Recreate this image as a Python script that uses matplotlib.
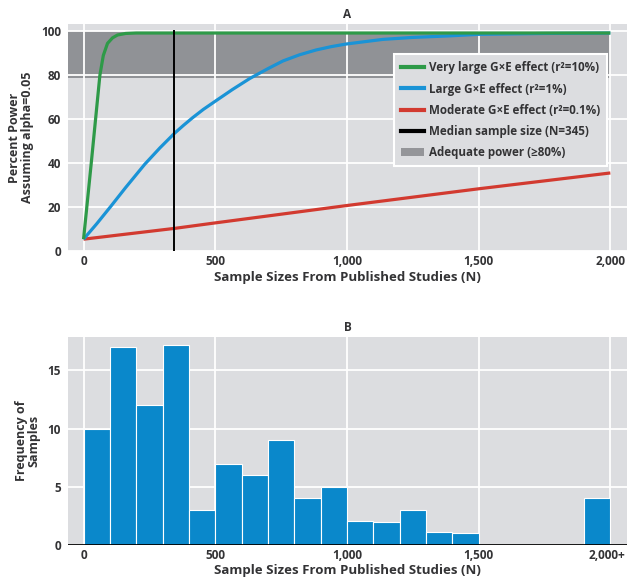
import matplotlib
matplotlib.use("Agg")
import matplotlib.pyplot as plt
import matplotlib.transforms as mtransforms
from matplotlib.patches import Patch
from matplotlib.lines import Line2D

# ---- Panel A data ----
n_verylarge = [0, 30, 62, 75, 91, 110, 129, 160, 200, 500, 1000, 1500, 2000]
p_verylarge = [5.5, 41, 80, 89, 94.5, 97, 98.3, 99, 99.2, 99.2, 99.2, 99.2, 99.2]

n_large = [0, 50, 104, 160, 232, 290, 345, 380, 414, 455, 500, 565, 632, 700, 757, 820, 883,
           940, 997, 1136, 1250, 1389, 1500, 1750, 2000]
p_large = [5.5, 12.5, 20.5, 29, 39.5, 47, 53.6, 57.3, 60.7, 64.5, 68.2, 73.5, 78.6, 83, 86.5,
           89.3, 91.5, 93, 94.2, 96.3, 97.2, 97.9, 98.6, 99.0, 99.2]

n_moderate = [0, 345, 500, 1000, 1500, 2000]
p_moderate = [5.5, 10.4, 12.9, 20.8, 28.4, 35.6]

median_n = 345
adequate_low, adequate_high = 78.8, 100

legend_labels = [
    "Very large G\u00d7E effect (r\u00b2=10%)",
    "Large G\u00d7E effect (r\u00b2=1%)",
    "Moderate G\u00d7E effect (r\u00b2=0.1%)",
    "Median sample size (N=345)",
    "Adequate power (\u226580%)",
]

# ---- Panel B data ----
bin_left = [0, 100, 200, 300, 400, 500, 600, 700, 800, 900, 1000, 1100, 1200, 1300, 1400, 1900]
freq = [10, 17, 12, 17.2, 3, 7, 6, 9, 4, 5, 2.1, 2, 3, 1.1, 1, 4]

x_ticks = [0, 500, 1000, 1500, 2000]
x_ticklabels_a = ["0", "500", "1,000", "1,500", "2,000"]
x_ticklabels_b = ["0", "500", "1,000", "1,500", "2,000+"]

GREEN = "#2e9a48"
BLUE = "#1a93d6"
RED = "#d23a30"
BARBLUE = "#0a88cb"
BG = "#dcdde0"
BAND = "#909296"
TXT = "#333335"

plt.rcParams["font.family"] = ["Open Sans", "DejaVu Sans"]
plt.rcParams["font.weight"] = "bold"

fig = plt.figure(figsize=(6.28, 5.81), dpi=100)
axA = fig.add_axes([0.1083, 0.5675, 0.8900, 0.3912])
axB = fig.add_axes([0.1083, 0.0620, 0.8900, 0.3585])

XLIM = (-59, 2063)

for ax in (axA, axB):
    ax.set_facecolor(BG)
    ax.set_xlim(*XLIM)
    ax.grid(True, color="white", linewidth=1.3, zorder=0.5)
    ax.set_axisbelow(True)
    for s in ax.spines.values():
        s.set_visible(False)
    ax.tick_params(length=0, labelsize=8.5, labelcolor=TXT)
    ax.tick_params(axis="x", pad=3)
    ax.tick_params(axis="y", pad=5)
    ax.set_xticks(x_ticks)

# Panel A
axA.set_ylim(0, 103.3)
axA.set_yticks([0, 20, 40, 60, 80, 100])
axA.set_xticklabels(x_ticklabels_a)
axA.fill_between([XLIM[0], 2000], adequate_low, adequate_high, color=BAND, zorder=0.3, linewidth=0)
axA.plot(n_moderate, p_moderate, color=RED, lw=2.3, zorder=3, solid_capstyle="butt")
axA.plot(n_large, p_large, color=BLUE, lw=2.3, zorder=3, solid_capstyle="butt")
axA.plot(n_verylarge, p_verylarge, color=GREEN, lw=2.3, zorder=4, solid_capstyle="butt")
axA.plot([median_n, median_n], [0, 100], color="black", lw=1.4, zorder=5)
axA.set_title("A", fontsize=8.5, fontweight="bold", color=TXT, pad=4)
axA.set_xlabel("Sample Sizes From Published Studies (N)", fontsize=9.5, fontweight="bold", color=TXT, labelpad=2)
axA.set_ylabel("Percent Power\nAssuming alpha=0.05", fontsize=9, fontweight="bold", color=TXT, labelpad=5, linespacing=1.0)

handles = [
    Line2D([], [], color=GREEN, lw=3),
    Line2D([], [], color=BLUE, lw=3),
    Line2D([], [], color=RED, lw=3),
    Line2D([], [], color="black", lw=3),
    Patch(facecolor="#949599", edgecolor="none"),
]
leg = axA.legend(handles, legend_labels, loc="upper right", bbox_to_anchor=(0.975, 0.892),
                 prop={"size": 8.4, "weight": "bold"}, frameon=True, fancybox=False,
                 facecolor=BG, edgecolor="white",
                 framealpha=1, handlelength=2.0, handletextpad=0.4, labelspacing=0.70,
                 borderpad=0.6)
leg.get_frame().set_linewidth(1.5)
leg.set_zorder(6)
for t in leg.get_texts():
    t.set_color(TXT)

# Panel B
axB.set_ylim(0, 17.9)
axB.set_yticks([0, 5, 10, 15])
axB.set_xticklabels(x_ticklabels_b)
axB.bar(bin_left, freq, width=100, align="edge", color=BARBLUE, edgecolor="white", linewidth=0.8, zorder=3)
axB.axhline(0, color="black", lw=2, zorder=4)
axB.set_title("B", fontsize=8.5, fontweight="bold", color=TXT, pad=4)
axB.set_xlabel("Sample Sizes From Published Studies (N)", fontsize=9.5, fontweight="bold", color=TXT, labelpad=1)
axB.set_ylabel("Frequency of\nSamples", fontsize=9, fontweight="bold", color=TXT, labelpad=5, linespacing=1.0)

for lbl in axA.get_xticklabels() + axA.get_yticklabels() + axB.get_xticklabels() + axB.get_yticklabels():
    lbl.set_fontweight("bold")

# keep the last bottom tick label inside the figure
last = axB.get_xticklabels()[-1]
last.set_transform(last.get_transform() + mtransforms.ScaledTranslation(-3 / 100, 0, fig.dpi_scale_trans))

fig.savefig("out.png", dpi=100)
